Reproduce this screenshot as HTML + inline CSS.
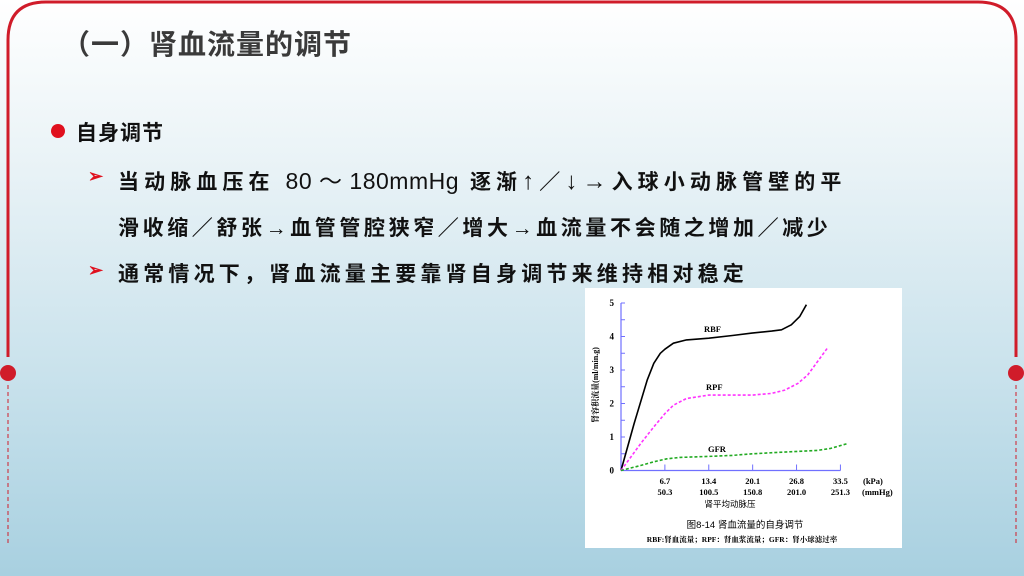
<!DOCTYPE html>
<html><head><meta charset="utf-8">
<style>
body{margin:0;width:1024px;height:576px;overflow:hidden;position:relative;font-family:"Liberation Sans","Noto Sans CJK SC",sans-serif;background:linear-gradient(#ffffff 0%,#e8f2f6 30%,#c9e2ec 65%,#a8d0e0 100%);}
.t{position:absolute;white-space:nowrap;font-weight:bold;color:#111;}
.b{letter-spacing:4.2px;}
.l{letter-spacing:0.5px;font-weight:normal;font-size:23px;}
.a{font-size:24px;}
</style></head><body>
<svg width="1024" height="576" style="position:absolute;left:0;top:0">
<path d="M8,357 L8,40 Q8,2 46,2 L978,2 Q1016,2 1016,40 L1016,357" fill="none" stroke="#d01c2a" stroke-width="3"/>
<circle cx="8" cy="373" r="8" fill="#d01c2a"/><circle cx="1016" cy="373" r="8" fill="#d01c2a"/>
<line x1="8" y1="385" x2="8" y2="545" stroke="#d01c2a" stroke-width="1" stroke-dasharray="4,3"/>
<line x1="1016" y1="385" x2="1016" y2="545" stroke="#d01c2a" stroke-width="1" stroke-dasharray="4,3"/>
</svg>
<div class="t" style="left:62px;top:23px;font-size:28px;color:#3a3a3a;letter-spacing:1px">（一）肾血流量的调节</div>
<div style="position:absolute;left:51px;top:124px;width:14px;height:14px;border-radius:50%;background:#e0101e"></div>
<div class="t" style="left:76px;top:117px;font-size:21px;letter-spacing:1px">自身调节</div>
<div class="t" style="left:88px;top:166px;font-size:18px;color:#e0101e">➢</div>
<div class="t b" style="left:118px;top:162px;font-size:21px;letter-spacing:5.1px">当动脉血压在 <span class="l">80 ～ 180mmHg</span> 逐渐<span class="a">↑</span>／<span class="a">↓→</span>入球小动脉管壁的平</div>
<div class="t b" style="left:118px;top:212px;font-size:21px;letter-spacing:3.6px">滑收缩／舒张→血管管腔狭窄／增大→血流量不会随之增加／减少</div>
<div class="t" style="left:88px;top:260px;font-size:18px;color:#e0101e">➢</div>
<div class="t b" style="left:118px;top:258px;font-size:21px">通常情况下，肾血流量主要靠肾自身调节来维持相对稳定</div>
<div style="position:absolute;left:585px;top:288px;width:317px;height:260px;background:#fff"></div>
<svg id="chart" width="1024" height="576" style="position:absolute;left:0;top:0" font-family="Liberation Serif, Noto Serif CJK SC, serif"></svg>
<script>
const yTicks=[0,1,2,3,4,5];
const xTicks=[6.7,13.4,20.1,26.8,33.5];
const xTicksMmHg=["50.3","100.5","150.8","201.0","251.3"];
const rbfX=[0,2,4,5,6,6.7,8,10,13.4,17,20,23,24.5,26,27.3,28.3];
const rbfY=[0,1.4,2.7,3.2,3.5,3.62,3.8,3.9,3.95,4.03,4.1,4.16,4.2,4.35,4.6,4.95];
const rpfX=[0,3,5,6.7,8,9,10,13.4,17,20,23,25,27,28.5,30,31.5];
const rpfY=[0,0.8,1.3,1.7,1.95,2.05,2.15,2.25,2.25,2.25,2.3,2.4,2.6,2.85,3.25,3.65];
const gfrX=[0,3,5,7,9,13.4,17,20,24,27,30,32,34.5];
const gfrY=[0,0.15,0.26,0.35,0.39,0.42,0.45,0.5,0.54,0.57,0.6,0.66,0.8];
const X=v=>621+v*6.55, Y=v=>470.5-v*33.5;
const svg=document.getElementById('chart'),NS='http://www.w3.org/2000/svg';
function el(t,a,txt){const e=document.createElementNS(NS,t);for(const k in a)e.setAttribute(k,a[k]);if(txt!==undefined)e.textContent=txt;svg.appendChild(e);return e;}
let e=el('line',{x1:X(0),y1:Y(0),x2:X(0),y2:Y(5),stroke:'#7070ff','stroke-width':1.2});

e=el('line',{x1:X(0),y1:Y(0),x2:X(33.5),y2:Y(0),stroke:'#7070ff','stroke-width':1.2});

for(let i=0;i<=10;i++){const v=i/2;el('line',{x1:X(0),y1:Y(v),x2:X(0)+4,y2:Y(v),stroke:'#7070ff'});}
yTicks.forEach(v=>{const t=el('text',{x:X(0)-7,y:Y(v)+3,'font-size':9,'font-weight':'bold','text-anchor':'end'},v);
});
xTicks.forEach((v,i)=>{el('line',{x1:X(v),y1:Y(0),x2:X(v),y2:Y(0)-6,stroke:'#7070ff'});
let t=el('text',{x:X(v),y:484,'font-size':8.5,'font-weight':'bold','text-anchor':'middle'},v.toFixed(1));

t=el('text',{x:X(v),y:495,'font-size':8.5,'font-weight':'bold','text-anchor':'middle'},xTicksMmHg[i]);
});
el('text',{x:863,y:484,'font-size':8.5,'font-weight':'bold'},'(kPa)');
el('text',{x:862,y:495,'font-size':8.5,'font-weight':'bold'},'(mmHg)');
e=el('text',{x:730,y:507,'font-size':8.5,'text-anchor':'middle','font-family':'Liberation Sans, Noto Sans CJK SC, sans-serif'},'肾平均动脉压');

e=el('text',{x:0,y:0,'font-size':8,'font-weight':'bold','text-anchor':'middle',transform:'translate(598,385) rotate(-90)'},'肾容积流量(ml/min.g)');

function line(xs,ys,col,dash,name){const d=xs.map((x,i)=>(i?'L':'M')+X(x).toFixed(1)+','+Y(ys[i]).toFixed(1)).join(' ');
const p=el('path',{d:d,fill:'none',stroke:col,'stroke-width':1.6,'stroke-dasharray':dash,'stroke-linejoin':'round'});
}
line(rbfX,rbfY,'#000','none','rbf-line');
line(rpfX,rpfY,'#ff33ff','3,2','rpf-line');
line(gfrX,gfrY,'#22aa22','3,2','gfr-line');
el('text',{x:704,y:332,'font-size':8.5,'font-weight':'bold'},'RBF');
el('text',{x:706,y:390,'font-size':8.5,'font-weight':'bold'},'RPF');
el('text',{x:708,y:452,'font-size':8.5,'font-weight':'bold'},'GFR');
e=el('text',{x:745,y:528,'font-size':9.5,'text-anchor':'middle','font-family':'Liberation Sans, Noto Sans CJK SC, sans-serif'},'图8-14  肾血流量的自身调节');

e=el('text',{x:742,y:542,'font-size':7.5,'text-anchor':'middle','font-weight':'bold'},'RBF:肾血流量；RPF：肾血浆流量；GFR：肾小球滤过率');

</script>
</body></html>
